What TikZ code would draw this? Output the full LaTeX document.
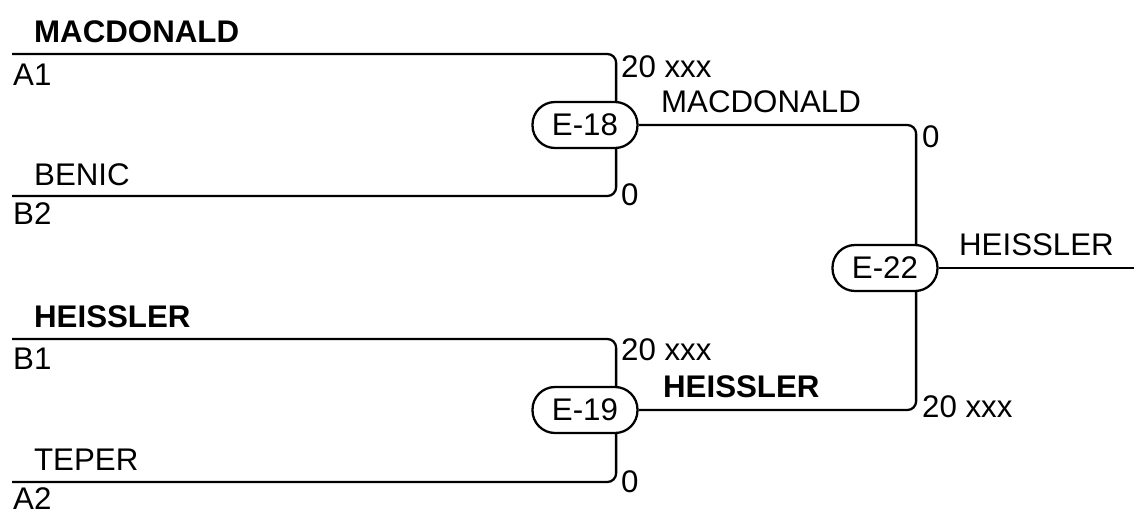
\documentclass[tikz,border=0pt]{standalone}
\usepackage{fontspec}
\setmainfont{Liberation Sans}
\begin{document}
\begin{tikzpicture}[x=0.02cm,y=-0.02cm,line width=1.3pt,
	every node/.style={font=\fontsize{17.8}{20}\selectfont},
	game/.style={draw,rounded corners=0.45cm,minimum width=2.1cm,minimum height=0.92cm,inner sep=0pt},
	lbl/.style={inner sep=0pt,anchor=base west},
	bracket/.style={rounded corners=5pt}]
	\useasboundingbox (0,0) rectangle (1134,511);

	% games
	\node[game] (e18) at (585,125) {E-18};
	\node[game] (e19) at (585,410) {E-19};
	\node[game] (e22) at (885,268) {E-22};

	% free line ends
	\coordinate (a1) at (12,54);
	\coordinate (b2) at (12,196);
	\coordinate (b1) at (12,339);
	\coordinate (a2) at (12,482);
	\coordinate (champ) at (1134,268);

	% brackets
	\draw[bracket] (a1) -| ([xshift=-0.45cm]e18.north east);
	\draw[bracket] (b2) -| ([xshift=-0.45cm]e18.south east);
	\draw[bracket] (b1) -| ([xshift=-0.45cm]e19.north east);
	\draw[bracket] (a2) -| ([xshift=-0.45cm]e19.south east);
	\draw[bracket] (e18.east) -| ([xshift=-0.45cm]e22.north east);
	\draw[bracket] (e19.east) -| ([xshift=-0.45cm]e22.south east);
	\draw (e22.east) -- (champ);

	% players and seeds
	\node[lbl] (macdonald) at (33,42) {\bfseries MACDONALD};
	\node[lbl] (seeda1) at (12,85) {A1};
	\node[lbl] (benic) at (33,185) {BENIC};
	\node[lbl] (seedb2) at (12,224) {B2};
	\node[lbl] (heissler) at (33,327) {\bfseries HEISSLER};
	\node[lbl] (seedb1) at (12,369) {B1};
	\node[lbl] (teper) at (33,470) {TEPER};
	\node[lbl] (seeda2) at (12,509) {A2};

	% scores and winners
	\node[lbl] (score1) at (620,77) {20 xxx};
	\node[lbl] (score2) at (620,205) {0};
	\node[lbl] (score3) at (620,360) {20 xxx};
	\node[lbl] (score4) at (620,492) {0};
	\node[lbl] (win18) at (660,112) {MACDONALD};
	\node[lbl] (win19) at (662,397) {\bfseries HEISSLER};
	\node[lbl] (score5) at (921,147) {0};
	\node[lbl] (score6) at (921,417) {20 xxx};
	\node[lbl] (win22) at (958,255) {HEISSLER};
\end{tikzpicture}
\end{document}
